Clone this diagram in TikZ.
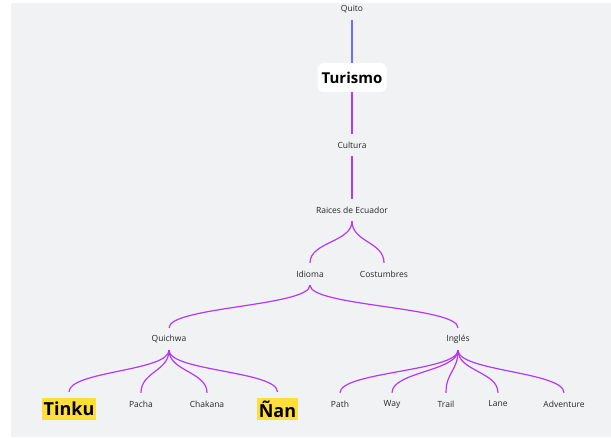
\documentclass[tikz,border=0pt]{standalone}
\usepackage{xcolor}
\usepackage{fontspec}
\setmainfont{Open Sans}
\usepackage{tikz}
\usetikzlibrary{arrows}

\definecolor{fondo}{HTML}{F1F2F4}
\definecolor{morado}{HTML}{B538F7}
\definecolor{azul}{HTML}{6C6CFF}
\definecolor{resalte}{HTML}{FFDE38}
\definecolor{texto}{HTML}{262626}

\begin{document}
\begin{tikzpicture}[x=1pt, y=1pt]
			\tikzstyle{every node} = [font = \fontsize{8.5}{10}\selectfont, text = texto]
			\tikzstyle{etiqueta} = [inner sep = 0pt, minimum height = 22pt]
			\tikzstyle{marcada} = [font = \fontsize{18}{20}\selectfont\bfseries, text = black, fill = resalte,
				inner xsep = 2pt, inner ysep = 0pt, minimum height = 22pt, outer sep = 6pt]
			\tikzstyle{rama} = [draw = morado, line width = 1.2pt, out = -90, in = 90, distance = 21pt]
				\path[fill = white] (0,0) rectangle (611,437);
				\path[fill = fondo] (11,0) rectangle (611,434);
				\useasboundingbox (0,0) rectangle (611,437);
				% cabecera
				\node[etiqueta] (quito) at (352,428) {Quito};
				\node[font = \fontsize{15}{17}\selectfont\bfseries, text = black, fill = white,
					rounded corners = 6pt, minimum width = 69pt, minimum height = 29pt] (turismo) at (352,359.5) {Turismo};
				\node[etiqueta] (cultura) at (352,292) {Cultura};
				\node[etiqueta] (raices) at (352,227) {Raices de Ecuador};
				\node[etiqueta] (idioma) at (310,163) {Idioma};
				\node[etiqueta] (costumbres) at (384,163) {Costumbres};
				\node[etiqueta] (quichwa) at (169,98) {Quichwa};
				\node[etiqueta] (ingles) at (458,98) {Inglés};
				% hojas
				\node[marcada] (tinku) at (69,28) {Tinku};
				\node[etiqueta] (pacha) at (141,33) {Pacha};
				\node[etiqueta] (chakana) at (207,33) {Chakana};
				\node[marcada] (nan) at (277.5,28) {Ñan};
				\node[etiqueta] (path) at (340,33) {Path};
				\node[etiqueta] (way) at (392,33) {Way};
				\node[etiqueta] (trail) at (446,33) {Trail};
				\node[etiqueta] (lane) at (498,33) {Lane};
				\node[etiqueta] (adventure) at (564,33) {Adventure};
				% conexiones
				\path[draw, azul, line width = 1.2pt] (quito.south)--(turismo.north);
				\path[draw, morado, line width = 1.2pt] (turismo.south)--(cultura.north);
				\path[draw, morado, line width = 1.2pt] (cultura.south)--(raices.north);
				\path[rama] (raices.south) to (idioma.north);
				\path[rama] (raices.south) to (costumbres.north);
				\path[rama] (idioma.south) to (quichwa.north);
				\path[rama] (idioma.south) to (ingles.north);
				\foreach \h in {tinku, pacha, chakana, nan}
					\path[rama] (quichwa.south) to (\h.north);
				\foreach \h in {path, way, trail, lane, adventure}
					\path[rama] (ingles.south) to (\h.north);
		\end{tikzpicture}
\end{document}
